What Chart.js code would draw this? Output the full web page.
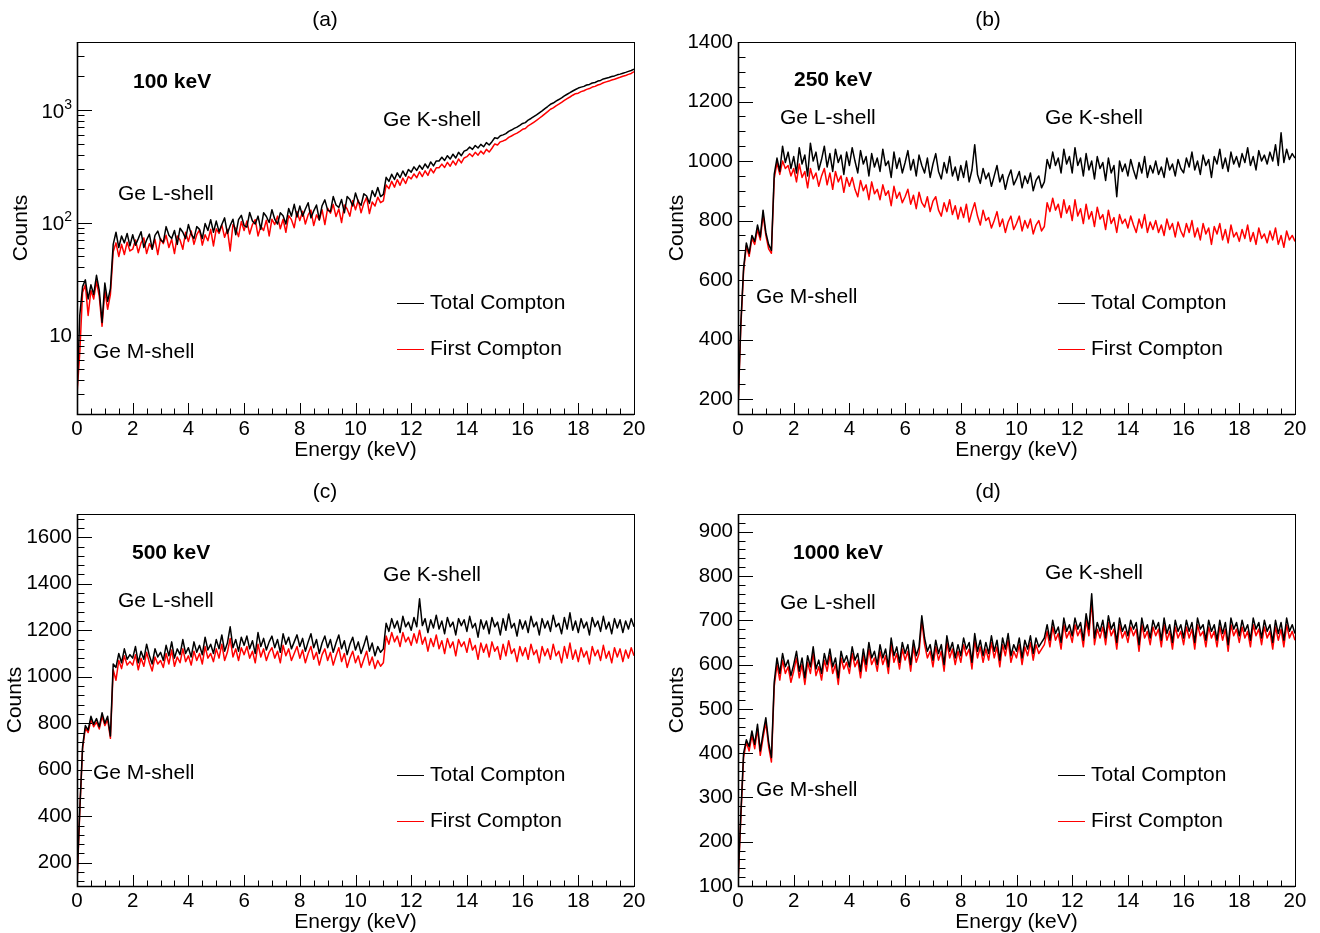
<!DOCTYPE html>
<html>
<head>
<meta charset="utf-8">
<title>Compton spectra in Ge</title>
<script src="https://cdn.jsdelivr.net/npm/chart.js@4.4.1/dist/chart.umd.min.js"></script>
<style>
  html, body { margin: 0; padding: 0; background: #fff; }
  #wrap { position: relative; width: 1320px; height: 933px; overflow: hidden; }
  canvas { position: absolute; }
</style>
</head>
<body>
<div id="wrap">
  <canvas id="padA" width="660" height="466" style="left:0px;top:0px"></canvas>
  <canvas id="padB" width="660" height="466" style="left:660px;top:0px"></canvas>
  <canvas id="padC" width="660" height="467" style="left:0px;top:466px"></canvas>
  <canvas id="padD" width="660" height="467" style="left:660px;top:466px"></canvas>
</div>
<script>
// Energy bins: 0.0 ... 20.0 keV, 0.1 keV wide (one value per bin, 10 per row)
const binWidth = 0.1;
const energyTicks = [0, 2, 4, 6, 8, 10, 12, 14, 16, 18, 20];
const energyMinorStep = 0.5;

// (a) 100 keV, log scale
const aTotal = [
  3, 15, 27, 31, 21, 28, 23, 34, 25, 13,
  29, 20, 26, 64, 82, 60, 76, 66, 80, 62,
  78, 63, 72, 83, 60, 70, 79, 58, 77, 84,
  70, 67, 92, 77, 72, 85, 64, 89, 82, 72,
  96, 79, 72, 92, 87, 72, 98, 85, 106, 82,
  103, 83, 96, 110, 80, 94, 107, 78, 106, 116,
  94, 91, 123, 103, 97, 114, 87, 122, 113, 100,
  130, 107, 97, 122, 115, 97, 133, 114, 145, 112,
  140, 114, 132, 150, 110, 127, 143, 106, 141, 159,
  129, 125, 170, 143, 136, 160, 122, 170, 160, 140,
  183, 153, 142, 180, 172, 148, 192, 170, 205, 170,
  178, 252, 232, 268, 241, 276, 250, 287, 258, 296,
  280, 312, 290, 322, 297, 331, 305, 345, 318, 352,
  352, 380, 356, 392, 366, 404, 374, 420, 392, 430,
  440, 468, 446, 482, 458, 494, 470, 512, 488, 522,
  566, 556, 590, 600, 615, 645, 662, 684, 702, 728,
  758, 770, 812, 838, 870, 902, 940, 980, 1025, 1070,
  1120, 1150, 1195, 1235, 1280, 1330, 1375, 1420, 1470, 1515,
  1560, 1590, 1615, 1660, 1680, 1730, 1750, 1800, 1825, 1880,
  1910, 1935, 1975, 2000, 2045, 2075, 2115, 2150, 2195, 2235,
  2290
];
const aFirst = [
  3, 7, 24, 28, 15, 25, 21, 30, 22, 12,
  25, 17, 23, 55, 66, 50, 64, 52, 67, 56,
  58, 70, 54, 66, 73, 53, 65, 58, 71, 52,
  72, 65, 77, 60, 71, 53, 76, 70, 58, 82,
  68, 84, 64, 78, 86, 63, 78, 69, 87, 62,
  88, 80, 95, 74, 87, 56, 96, 88, 75, 102,
  85, 103, 79, 96, 106, 76, 93, 85, 105, 76,
  107, 96, 114, 88, 107, 82, 115, 106, 90, 125,
  104, 126, 97, 117, 129, 94, 117, 105, 130, 96,
  134, 121, 145, 113, 132, 100, 143, 132, 114, 157,
  130, 158, 122, 148, 167, 120, 152, 140, 168, 150,
  156, 215, 200, 232, 206, 240, 214, 248, 222, 256,
  244, 270, 250, 282, 256, 288, 262, 300, 276, 306,
  306, 330, 308, 342, 316, 352, 324, 366, 338, 374,
  384, 408, 386, 420, 396, 430, 406, 446, 422, 456,
  498, 488, 520, 530, 543, 570, 586, 605, 622, 645,
  672, 684, 722, 746, 776, 806, 842, 880, 922, 964,
  1012, 1040, 1085, 1122, 1165, 1212, 1256, 1300, 1348, 1392,
  1405, 1450, 1478, 1520, 1545, 1592, 1615, 1662, 1690, 1740,
  1770, 1800, 1840, 1868, 1910, 1945, 1985, 2020, 2065, 2105,
  2180
];
const aYTicks = [10, 100, 1000];
const aYLabels = ['10', '10^2', '10^3'];

// (b) 250 keV
const bTotal = [
  170, 450, 640, 725, 690, 750, 730, 785, 745, 835,
  760, 720, 700, 955, 1010, 965, 1050, 995, 1030, 975,
  1015, 960, 1045, 990, 1020, 950, 1060, 1000, 1030, 970,
  1005, 1050, 980, 1025, 965, 1040, 995, 1020, 955, 1030,
  985, 1045, 1000, 960, 1035, 990, 1015, 950, 1025, 980,
  1010, 965, 1040, 985, 1000, 945, 1030, 975, 1010, 960,
  995, 1035, 970, 1005, 950, 1020, 985, 960, 1010, 945,
  990, 1025, 965, 940, 995, 960, 1015, 950, 980, 935,
  985, 945, 1000, 930, 970, 1055, 955, 925, 975, 940,
  960, 915, 950, 985, 930, 955, 905, 945, 970, 920,
  940, 965, 910, 950, 925, 960, 900, 935, 950, 910,
  930, 1005, 975, 1030, 985, 1010, 960, 1040, 990, 1015,
  960, 1045, 985, 1010, 950, 1025, 970, 1000, 940, 1015,
  975, 995, 935, 1010, 960, 985, 880, 1000, 965, 990,
  950, 1005, 970, 940, 995, 960, 1015, 945, 985, 960,
  1000, 955, 980, 945, 1010, 970, 990, 950, 1005, 975,
  960, 1010, 980, 1030, 970, 1000, 955, 1020, 985, 1005,
  945, 1015, 990, 1040, 975, 1010, 965, 1030, 990, 1015,
  980, 1025, 995, 1045, 985, 1015, 970, 1035, 1000, 1020,
  990, 1030, 1000, 1055, 985, 1095, 995, 1040, 1005, 1025,
  1010
];
const bFirst = [
  165, 440, 630, 715, 680, 740, 720, 770, 735, 820,
  750, 705, 690, 940, 995, 955, 1000, 975, 985, 950,
  975, 930, 990, 945, 965, 910, 975, 940, 960, 915,
  950, 975, 920, 960, 905, 965, 930, 950, 895, 945,
  915, 945, 905, 880, 935, 900, 920, 870, 930, 890,
  905, 870, 920, 885, 900, 850, 915, 875, 895, 860,
  880, 905, 855, 885, 840, 895, 860, 845, 880, 830,
  865, 880, 835, 815, 860, 830, 870, 820, 850, 805,
  845, 810, 855, 795, 830, 860, 815, 785, 835, 800,
  810, 775, 800, 830, 780, 805, 760, 795, 815, 770,
  790, 815, 765, 800, 775, 805, 755, 785, 800, 765,
  780, 860, 830, 875, 835, 855, 810, 870, 825, 850,
  800, 870, 815, 840, 790, 855, 805, 830, 780, 845,
  805, 820, 770, 835, 790, 810, 760, 820, 790, 805,
  775, 815, 785, 760, 805, 775, 820, 760, 795, 770,
  800, 760, 785, 750, 805, 770, 790, 745, 795, 765,
  745, 790, 760, 800, 745, 775, 735, 790, 755, 775,
  720, 780, 755, 790, 735, 770, 725, 785, 745, 760,
  730, 770, 740, 785, 730, 760, 720, 775, 740, 755,
  725, 765, 735, 775, 720, 750, 710, 765, 735, 750,
  730
];
const bYTicks = [200, 400, 600, 800, 1000, 1200, 1400];

// (c) 500 keV
const cTotal = [
  120, 430, 700, 790, 770, 830, 795, 820, 785, 845,
  800, 830, 745, 1055, 1040, 1100, 1060, 1120, 1075, 1095,
  1080, 1130, 1060, 1110, 1075, 1140, 1090, 1055, 1120, 1085,
  1105, 1070, 1135, 1090, 1150, 1080, 1120, 1095, 1160, 1100,
  1125, 1085, 1150, 1105, 1135, 1095, 1170, 1115, 1140, 1100,
  1160, 1120, 1180, 1110, 1145, 1215, 1125, 1160, 1110, 1170,
  1135, 1175, 1120, 1155, 1100, 1190, 1130, 1165, 1115, 1150,
  1175, 1125, 1160, 1105, 1185, 1140, 1170, 1120, 1150, 1180,
  1130, 1165, 1110, 1150, 1185, 1125, 1160, 1100, 1145, 1175,
  1125, 1160, 1105, 1145, 1180, 1120, 1155, 1095, 1140, 1170,
  1115, 1150, 1100, 1135, 1175, 1110, 1145, 1090, 1130, 1105,
  1120, 1230, 1195, 1250, 1210, 1240, 1190, 1260, 1215, 1235,
  1200, 1255, 1215, 1335, 1220, 1250, 1190, 1245, 1210, 1265,
  1205, 1240, 1185, 1255, 1215, 1235, 1180, 1250, 1220, 1245,
  1195, 1260, 1210, 1230, 1170, 1245, 1205, 1240, 1185, 1255,
  1215, 1235, 1180, 1250, 1200, 1270, 1210, 1230, 1175, 1245,
  1205, 1240, 1190, 1260, 1215, 1235, 1180, 1250, 1210, 1240,
  1195, 1265, 1215, 1230, 1185, 1255, 1205, 1275, 1200, 1240,
  1190, 1250, 1210, 1235, 1180, 1255, 1215, 1240, 1195, 1260,
  1205, 1235, 1185, 1250, 1210, 1245, 1190, 1240, 1205, 1250,
  1215
];
const cFirst = [
  110, 420, 690, 780, 760, 815, 785, 805, 775, 830,
  790, 815, 735, 1030, 985, 1070, 1035, 1090, 1050, 1065,
  1050, 1095, 1030, 1080, 1045, 1105, 1060, 1025, 1085, 1055,
  1070, 1040, 1100, 1055, 1115, 1045, 1085, 1060, 1120, 1065,
  1090, 1050, 1110, 1070, 1100, 1055, 1130, 1080, 1100, 1065,
  1120, 1080, 1140, 1070, 1105, 1165, 1085, 1120, 1070, 1125,
  1095, 1130, 1080, 1110, 1060, 1140, 1085, 1120, 1070, 1105,
  1125, 1080, 1110, 1060, 1135, 1090, 1120, 1070, 1100, 1130,
  1080, 1115, 1060, 1100, 1130, 1075, 1105, 1050, 1095, 1120,
  1070, 1105, 1050, 1090, 1125, 1065, 1100, 1040, 1080, 1110,
  1060, 1090, 1040, 1075, 1110, 1050, 1085, 1035, 1070, 1045,
  1060, 1175, 1140, 1190, 1150, 1175, 1130, 1190, 1150, 1170,
  1135, 1185, 1145, 1200, 1140, 1170, 1110, 1165, 1130, 1180,
  1120, 1155, 1100, 1165, 1125, 1150, 1090, 1160, 1130, 1150,
  1105, 1165, 1115, 1135, 1075, 1145, 1105, 1140, 1085, 1150,
  1110, 1130, 1075, 1140, 1090, 1155, 1100, 1120, 1065, 1130,
  1090, 1125, 1075, 1140, 1095, 1115, 1060, 1130, 1090, 1120,
  1075, 1140, 1090, 1110, 1060, 1130, 1080, 1145, 1075, 1115,
  1065, 1125, 1085, 1110, 1055, 1130, 1090, 1115, 1070, 1135,
  1080, 1110, 1060, 1125, 1085, 1120, 1065, 1115, 1080, 1125,
  1090
];
const cYTicks = [200, 400, 600, 800, 1000, 1200, 1400, 1600];

// (d) 1000 keV
const dTotal = [
  110, 260, 400, 430, 415, 450, 420, 465, 405, 445,
  480, 425, 390, 560, 615, 580, 625, 595, 610, 575,
  600, 630, 585, 615, 570, 620, 595, 640, 590, 610,
  580, 625, 600, 635, 595, 615, 570, 630, 605, 620,
  595, 640, 610, 625, 585, 635, 600, 650, 615, 630,
  600, 645, 615, 635, 595, 660, 620, 640, 605, 650,
  625, 645, 600, 655, 620, 640, 710, 660, 630, 645,
  610, 655, 625, 645, 600, 665, 630, 650, 615, 645,
  620, 660, 635, 650, 605, 670, 630, 655, 620, 650,
  625, 665, 630, 655, 610, 660, 635, 670, 620, 645,
  630, 660, 615, 655, 635, 665, 625, 660, 640, 650,
  660, 690, 655, 700, 670, 685, 650, 705, 675, 690,
  665, 705, 680, 695, 655, 715, 680, 760, 660, 695,
  675, 700, 660, 710, 680, 695, 650, 705, 675, 690,
  665, 700, 680, 695, 645, 705, 675, 690, 660, 700,
  680, 695, 655, 705, 670, 690, 650, 700, 675, 690,
  660, 700, 675, 695, 650, 705, 680, 690, 655, 700,
  675, 690, 655, 700, 670, 695, 645, 705, 680, 695,
  665, 700, 675, 690, 655, 705, 680, 695, 660, 700,
  675, 690, 650, 700, 670, 695, 655, 705, 675, 690,
  670
];
const dFirst = [
  105, 250, 390, 425, 405, 440, 410, 455, 395, 435,
  470, 415, 380, 550, 600, 565, 610, 580, 595, 560,
  585, 615, 570, 600, 555, 605, 580, 625, 575, 595,
  565, 610, 585, 620, 580, 600, 555, 615, 590, 605,
  580, 625, 595, 610, 570, 620, 585, 635, 600, 615,
  585, 630, 600, 620, 580, 645, 605, 625, 590, 635,
  610, 630, 585, 640, 605, 625, 700, 645, 615, 630,
  595, 640, 610, 630, 585, 650, 615, 635, 600, 630,
  605, 645, 620, 635, 590, 655, 615, 640, 605, 635,
  610, 650, 615, 640, 595, 645, 620, 655, 605, 630,
  615, 645, 600, 640, 620, 650, 610, 645, 625, 635,
  645, 675, 640, 685, 655, 670, 635, 690, 660, 675,
  650, 690, 665, 680, 640, 700, 665, 745, 645, 680,
  660, 685, 645, 695, 665, 680, 635, 690, 660, 675,
  650, 685, 665, 680, 630, 690, 660, 675, 645, 685,
  665, 680, 640, 690, 655, 675, 635, 685, 660, 675,
  645, 685, 660, 680, 635, 690, 665, 675, 640, 685,
  660, 675, 640, 685, 655, 680, 630, 690, 665, 680,
  650, 685, 660, 675, 640, 690, 665, 680, 645, 685,
  660, 675, 635, 685, 655, 680, 640, 690, 660, 675,
  655
];
const dYTicks = [100, 200, 300, 400, 500, 600, 700, 800, 900];

const seriesNames = ['Total Compton', 'First Compton'];
const seriesColors = ['#000000', '#ff0000'];
const shellNames = ['Ge K-shell', 'Ge L-shell', 'Ge M-shell'];

const FONT = "'Liberation Sans', Arial, Helvetica, sans-serif";

function toPoints(values) {
  return values.map((v, i) => ({ x: Math.round(i * binWidth * 10) / 10, y: v }));
}

// ROOT-like pad: frame, inward ticks, labels, annotations and legend
const rootPad = {
  id: 'rootPad',
  afterDatasetsDraw(chart, args, o) {
    const ctx = chart.ctx;
    const a = chart.chartArea;
    const xs = chart.scales.x, ys = chart.scales.y;
    const L = Math.round(a.left), R = Math.round(a.right);
    const T = Math.round(a.top), B = Math.round(a.bottom);
    ctx.save();
    ctx.strokeStyle = '#000';
    ctx.fillStyle = '#000';

    // frame
    ctx.lineWidth = 1;
    ctx.strokeRect(L + 0.5, T + 0.5, R - L, B - T);
    ctx.lineWidth = 1.6;
    ctx.beginPath();
    ctx.moveTo(L + 0.5, T); ctx.lineTo(L + 0.5, B + 0.5); ctx.lineTo(R, B + 0.5);
    ctx.stroke();

    // x ticks
    ctx.lineWidth = 1;
    ctx.beginPath();
    for (let k = 0; k * energyMinorStep <= 20 + 1e-9; k++) {
      const v = k * energyMinorStep;
      const px = Math.round(xs.getPixelForValue(v)) + 0.5;
      const len = energyTicks.includes(v) ? 11 : 5.5;
      ctx.moveTo(px, B); ctx.lineTo(px, B - len);
    }
    // y ticks
    let minors = [];
    if (o.log) {
      [1, 10, 100, 1000].forEach(d => {
        for (let m = 2; m <= 9; m++) {
          const v = m * d;
          if (v >= o.yMin && v <= o.yMax) minors.push(v);
        }
      });
    } else {
      for (let v = Math.ceil(o.yMin / o.yMinor) * o.yMinor; v <= o.yMax + 1e-9; v += o.yMinor) {
        if (!o.yTicks.includes(v)) minors.push(v);
      }
    }
    minors.forEach(v => {
      const py = Math.round(ys.getPixelForValue(v)) + 0.5;
      ctx.moveTo(L, py); ctx.lineTo(L + 7.5, py);
    });
    o.yTicks.forEach(v => {
      const py = Math.round(ys.getPixelForValue(v)) + 0.5;
      ctx.moveTo(L, py); ctx.lineTo(L + 15, py);
    });
    ctx.stroke();

    // tick labels
    ctx.font = '20.5px ' + FONT;
    ctx.textAlign = 'center';
    ctx.textBaseline = 'middle';
    energyTicks.forEach(v => {
      ctx.fillText(String(v), xs.getPixelForValue(v), B + 15);
    });
    ctx.textAlign = 'right';
    o.yTicks.forEach((v, i) => {
      const py = ys.getPixelForValue(v);
      const lab = o.yLabels ? o.yLabels[i] : String(v);
      if (lab.includes('^')) {
        const [base, ex] = lab.split('^');
        ctx.font = '14px ' + FONT;
        ctx.fillText(ex, L - 5, py - 5);
        const exW = ctx.measureText(ex).width;
        ctx.font = '20.5px ' + FONT;
        ctx.fillText(base, L - 5 - exW, py + 2);
      } else {
        ctx.fillText(lab, L - 5, py + (o.log ? 1 : 0));
      }
    });

    // axis titles
    ctx.font = '21px ' + FONT;
    ctx.textAlign = 'center';
    ctx.fillText('Energy (keV)', (L + R) / 2, B + 36);
    ctx.save();
    ctx.translate(o.countsX, (T + B) / 2);
    ctx.rotate(-Math.PI / 2);
    ctx.fillText('Counts', 0, 0);
    ctx.restore();

    // pad title
    ctx.fillText(o.title, o.titleX, o.titleY);

    // annotations
    ctx.textAlign = 'left';
    ctx.font = 'bold 21px ' + FONT;
    ctx.fillText(o.beam, o.beamPos[0], o.beamPos[1]);
    ctx.font = '21px ' + FONT;
    shellNames.forEach((s, i) => ctx.fillText(s, o.shellPos[i][0], o.shellPos[i][1]));

    // legend
    seriesNames.forEach((s, i) => {
      const ly = o.legendY[i];
      ctx.strokeStyle = seriesColors[i];
      ctx.lineWidth = 1;
      ctx.beginPath();
      ctx.moveTo(o.legendX, Math.round(ly) + 0.5);
      ctx.lineTo(o.legendX + 27, Math.round(ly) + 0.5);
      ctx.stroke();
      ctx.fillStyle = '#000';
      ctx.fillText(s, o.legendX + 33, ly);
    });
    ctx.restore();
  }
};

const panels = [
  { id: 'padA', total: aTotal, first: aFirst, log: true, yMin: 2, yMax: 4000,
    yTicks: aYTicks, yLabels: aYLabels, yMinor: null,
    pad: { left: 77, right: 26, top: 42, bottom: 52 },
    title: '(a)', titleX: 325, titleY: 20, countsX: 21,
    beam: '100 keV', beamPos: [133, 82],
    shellPos: [[383, 120], [118, 194], [93, 352]],
    legendX: 397, legendY: [303, 349] },
  { id: 'padB', total: bTotal, first: bFirst, log: false, yMin: 150, yMax: 1400,
    yTicks: bYTicks, yMinor: 50,
    pad: { left: 78, right: 25, top: 42, bottom: 52 },
    title: '(b)', titleX: 328, titleY: 20, countsX: 17,
    beam: '250 keV', beamPos: [134, 80],
    shellPos: [[385, 118], [120, 118], [96, 297]],
    legendX: 398, legendY: [303, 349] },
  { id: 'padC', total: cTotal, first: cFirst, log: false, yMin: 100, yMax: 1700,
    yTicks: cYTicks, yMinor: 40,
    pad: { left: 77, right: 26, top: 48, bottom: 47 },
    title: '(c)', titleX: 325, titleY: 26, countsX: 15,
    beam: '500 keV', beamPos: [132, 87],
    shellPos: [[383, 109], [118, 135], [93, 307]],
    legendX: 397, legendY: [309, 355] },
  { id: 'padD', total: dTotal, first: dFirst, log: false, yMin: 100, yMax: 940,
    yTicks: dYTicks, yMinor: 20,
    pad: { left: 78, right: 25, top: 48, bottom: 47 },
    title: '(d)', titleX: 328, titleY: 26, countsX: 17,
    beam: '1000 keV', beamPos: [133, 87],
    shellPos: [[385, 107], [120, 137], [96, 324]],
    legendX: 398, legendY: [309, 355] }
];

panels.forEach(p => {
  new Chart(document.getElementById(p.id), {
    type: 'line',
    data: {
      datasets: [
        { label: seriesNames[0], data: toPoints(p.total), borderColor: seriesColors[0],
          borderWidth: 1.5, pointRadius: 0, tension: 0, fill: false, borderJoinStyle: 'round' },
        { label: seriesNames[1], data: toPoints(p.first), borderColor: seriesColors[1],
          borderWidth: 1.5, pointRadius: 0, tension: 0, fill: false, borderJoinStyle: 'round' }
      ]
    },
    options: {
      responsive: false,
      animation: false,
      devicePixelRatio: 1,
      layout: { padding: p.pad },
      plugins: {
        legend: { display: false },
        tooltip: { enabled: false },
        rootPad: p
      },
      scales: {
        x: { type: 'linear', min: 0, max: 20, display: false },
        y: { type: p.log ? 'logarithmic' : 'linear', min: p.yMin, max: p.yMax, display: false }
      }
    },
    plugins: [rootPad]
  });
});
</script>
</body>
</html>
